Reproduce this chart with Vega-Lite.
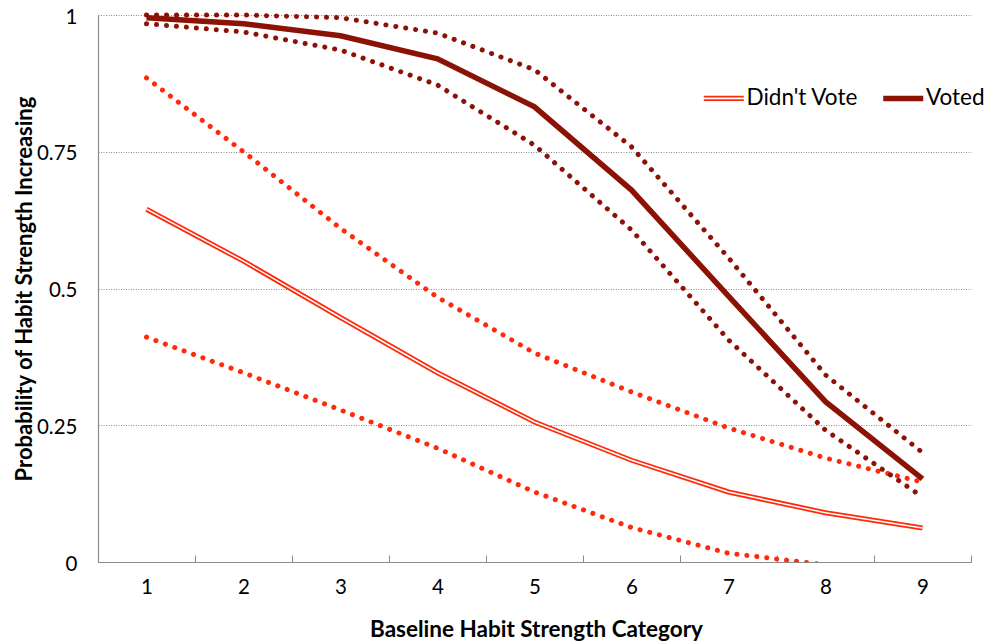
{
  "$schema": "https://vega.github.io/schema/vega-lite/v6.json",
  "width": 873,
  "height": 547,
  "autosize": {"type": "none"},
  "padding": {"left": 98, "top": 15, "right": 20, "bottom": 82},
  "background": "white",
  "config": {
    "view": {"stroke": null},
    "font": "Lato"
  },
  "data": {
    "values": [
      {"category": 1, "group": "Didn't Vote", "band": "mid", "p": 0.645},
      {"category": 2, "group": "Didn't Vote", "band": "mid", "p": 0.550},
      {"category": 3, "group": "Didn't Vote", "band": "mid", "p": 0.447},
      {"category": 4, "group": "Didn't Vote", "band": "mid", "p": 0.346},
      {"category": 5, "group": "Didn't Vote", "band": "mid", "p": 0.256},
      {"category": 6, "group": "Didn't Vote", "band": "mid", "p": 0.186},
      {"category": 7, "group": "Didn't Vote", "band": "mid", "p": 0.128},
      {"category": 8, "group": "Didn't Vote", "band": "mid", "p": 0.090},
      {"category": 9, "group": "Didn't Vote", "band": "mid", "p": 0.062},
      {"category": 1, "group": "Didn't Vote", "band": "upper", "p": 0.885},
      {"category": 2, "group": "Didn't Vote", "band": "upper", "p": 0.750},
      {"category": 3, "group": "Didn't Vote", "band": "upper", "p": 0.610},
      {"category": 4, "group": "Didn't Vote", "band": "upper", "p": 0.484},
      {"category": 5, "group": "Didn't Vote", "band": "upper", "p": 0.382},
      {"category": 6, "group": "Didn't Vote", "band": "upper", "p": 0.311},
      {"category": 7, "group": "Didn't Vote", "band": "upper", "p": 0.245},
      {"category": 8, "group": "Didn't Vote", "band": "upper", "p": 0.190},
      {"category": 9, "group": "Didn't Vote", "band": "upper", "p": 0.146},
      {"category": 1, "group": "Didn't Vote", "band": "lower", "p": 0.411},
      {"category": 2, "group": "Didn't Vote", "band": "lower", "p": 0.346},
      {"category": 3, "group": "Didn't Vote", "band": "lower", "p": 0.278},
      {"category": 4, "group": "Didn't Vote", "band": "lower", "p": 0.208},
      {"category": 5, "group": "Didn't Vote", "band": "lower", "p": 0.128},
      {"category": 6, "group": "Didn't Vote", "band": "lower", "p": 0.063},
      {"category": 7, "group": "Didn't Vote", "band": "lower", "p": 0.016},
      {"category": 8, "group": "Didn't Vote", "band": "lower", "p": -0.005},
      {"category": 9, "group": "Didn't Vote", "band": "lower", "p": -0.030},
      {"category": 1, "group": "Voted", "band": "mid", "p": 0.995},
      {"category": 2, "group": "Voted", "band": "mid", "p": 0.984},
      {"category": 3, "group": "Voted", "band": "mid", "p": 0.962},
      {"category": 4, "group": "Voted", "band": "mid", "p": 0.920},
      {"category": 5, "group": "Voted", "band": "mid", "p": 0.832},
      {"category": 6, "group": "Voted", "band": "mid", "p": 0.680},
      {"category": 7, "group": "Voted", "band": "mid", "p": 0.486},
      {"category": 8, "group": "Voted", "band": "mid", "p": 0.293},
      {"category": 9, "group": "Voted", "band": "mid", "p": 0.152},
      {"category": 1, "group": "Voted", "band": "upper", "p": 1.000},
      {"category": 2, "group": "Voted", "band": "upper", "p": 1.000},
      {"category": 3, "group": "Voted", "band": "upper", "p": 0.995},
      {"category": 4, "group": "Voted", "band": "upper", "p": 0.967},
      {"category": 5, "group": "Voted", "band": "upper", "p": 0.900},
      {"category": 6, "group": "Voted", "band": "upper", "p": 0.759},
      {"category": 7, "group": "Voted", "band": "upper", "p": 0.556},
      {"category": 8, "group": "Voted", "band": "upper", "p": 0.342},
      {"category": 9, "group": "Voted", "band": "upper", "p": 0.200},
      {"category": 1, "group": "Voted", "band": "lower", "p": 0.984},
      {"category": 2, "group": "Voted", "band": "lower", "p": 0.969},
      {"category": 3, "group": "Voted", "band": "lower", "p": 0.936},
      {"category": 4, "group": "Voted", "band": "lower", "p": 0.872},
      {"category": 5, "group": "Voted", "band": "lower", "p": 0.762},
      {"category": 6, "group": "Voted", "band": "lower", "p": 0.607},
      {"category": 7, "group": "Voted", "band": "lower", "p": 0.406},
      {"category": 8, "group": "Voted", "band": "lower", "p": 0.241},
      {"category": 9, "group": "Voted", "band": "lower", "p": 0.119}
    ]
  },
  "encoding": {
    "x": {
      "field": "category",
      "type": "quantitative",
      "scale": {"domain": [0.5, 9.5], "nice": false, "zero": false},
      "axis": {
        "title": "Baseline Habit Strength Category",
        "values": [0.5, 1, 1.5, 2, 2.5, 3, 3.5, 4, 4.5, 5, 5.5, 6, 6.5, 7, 7.5, 8, 8.5, 9, 9.5],
        "labelExpr": "datum.value % 1 === 0 ? '' + datum.value : ''",
        "labelOverlap": false,
        "labelFlush": false,
        "labelFont": "Lato",
        "labelFontSize": 20.5,
        "labelColor": "#000000",
        "labelBaseline": "alphabetic",
        "labelPadding": 38,
        "tickSize": -7,
        "tickColor": {"condition": {"test": "datum.value % 1 !== 0", "value": "#8C8C8C"}, "value": "transparent"},
        "domainColor": "#8C8C8C",
        "domainWidth": 1.2,
        "grid": false,
        "titleFont": "Lato",
        "titleFontSize": 22.5,
        "titleFontWeight": "bold",
        "titleColor": "#000000",
        "titleX": 438,
        "titleY": 74,
        "titleBaseline": "alphabetic"
      }
    },
    "y": {
      "field": "p",
      "type": "quantitative",
      "scale": {"domain": [0, 1], "nice": false, "zero": false},
      "axis": {
        "title": "Probability of Habit Strength Increasing",
        "values": [0, 0.25, 0.5, 0.75, 1],
        "labelExpr": "'' + datum.value",
        "ticks": false,
        "labelFont": "Lato",
        "labelFontSize": 20.5,
        "labelColor": "#000000",
        "labelPadding": 21,
        "labelOffset": 2,
        "domainColor": "#8C8C8C",
        "domainWidth": 1.2,
        "grid": true,
        "gridColor": "#8C8C8C",
        "gridDash": [1, 1.5],
        "gridWidth": 1,
        "titleFont": "Lato",
        "titleFontSize": 22,
        "titleFontWeight": "bold",
        "titleColor": "#000000",
        "titleAngle": 270,
        "titleBaseline": "bottom",
        "titleAlign": "center",
        "titleX": -62,
        "titleY": 273.5
      }
    }
  },
  "layer": [
    {
      "transform": [{"filter": "datum.group === \"Didn't Vote\" && datum.band !== 'mid'"}],
      "mark": {"type": "line", "color": "#FF2A0A", "strokeWidth": 5, "strokeCap": "round", "strokeDash": [0.1, 9.9], "clip": true},
      "encoding": {"detail": {"field": "band"}}
    },
    {
      "transform": [{"filter": "datum.group === 'Voted' && datum.band !== 'mid'"}],
      "mark": {"type": "line", "color": "#8C1205", "strokeWidth": 5, "strokeCap": "round", "strokeDash": [0.1, 9.9]},
      "encoding": {"detail": {"field": "band"}}
    },
    {
      "transform": [{"filter": "datum.group === \"Didn't Vote\" && datum.band === 'mid'"}],
      "mark": {"type": "line", "strokeWidth": 5},
      "encoding": {
        "color": {
          "field": "group",
          "type": "nominal",
          "scale": {"domain": ["Didn't Vote", "Voted"], "range": ["#FF2A0A", "#8C1205"]},
          "legend": {
            "title": null,
            "orient": "none",
            "direction": "horizontal",
            "legendX": 614.5,
            "legendY": 72,
            "symbolType": "stroke",
            "symbolSize": 1600,
            "symbolStrokeWidth": 5,
            "labelFont": "Lato",
            "labelFontSize": 22.5,
            "labelColor": "#000000",
            "labelOffset": 11.5,
            "columnPadding": 13.5,
            "encode": {
              "symbols": {
                "update": {
                  "shape": {"signal": "datum.value === 'Voted' ? 'stroke' : 'M-1,-0.085H1M-1,0.085H1'"},
                  "strokeWidth": {"signal": "datum.value === 'Voted' ? 5.5 : 1.7"}
                }
              }
            }
          }
        }
      }
    },
    {
      "transform": [{"filter": "datum.group === 'Voted' && datum.band === 'mid'"}],
      "mark": {"type": "line", "strokeWidth": 5.5},
      "encoding": {
        "color": {"field": "group", "type": "nominal"}
      }
    },
    {
      "transform": [{"filter": "datum.group === \"Didn't Vote\" && datum.band === 'mid'"}],
      "mark": {"type": "line", "color": "#FFFFFF", "strokeWidth": 1.5},
      "encoding": {}
    }
  ]
}
